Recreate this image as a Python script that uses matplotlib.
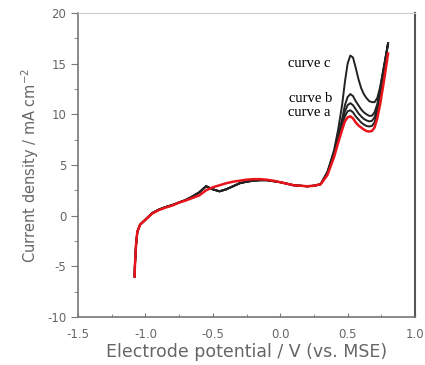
import numpy as np
import matplotlib.pyplot as plt
from matplotlib.ticker import MultipleLocator

# Common low-potential branch (x in V vs MSE)
x_base = [-1.08, -1.078, -1.07, -1.06, -1.04, -1.0, -0.95, -0.9, -0.85, -0.8, -0.75, -0.7,
          -0.65, -0.6, -0.55, -0.5, -0.45, -0.4, -0.35, -0.3, -0.25, -0.2, -0.15, -0.1,
          -0.05, 0.0, 0.05, 0.1, 0.15, 0.2, 0.25, 0.3]
y_base_red = [-6.0, -5.0, -3.0, -1.6, -0.9, -0.4, 0.2, 0.55, 0.8, 1.0, 1.3, 1.5,
              1.75, 2.0, 2.5, 2.8, 3.0, 3.2, 3.35, 3.45, 3.55, 3.6, 3.6, 3.55,
              3.45, 3.3, 3.15, 3.0, 2.95, 2.9, 2.95, 3.1]
y_base_black = [-6.0, -5.0, -3.0, -1.6, -0.9, -0.4, 0.25, 0.6, 0.85, 1.05, 1.3, 1.55,
                1.9, 2.3, 2.9, 2.6, 2.4, 2.6, 2.9, 3.2, 3.35, 3.45, 3.5, 3.5,
                3.4, 3.3, 3.15, 3.0, 2.95, 2.9, 2.95, 3.1]

# Oxidation peak region
x_peak = [0.35, 0.4, 0.43, 0.46, 0.48, 0.5, 0.52, 0.54, 0.56, 0.58, 0.6, 0.62,
          0.64, 0.66, 0.68, 0.70, 0.72, 0.74, 0.76, 0.78, 0.8]
y_red = [4.0, 5.8, 7.2, 8.5, 9.3, 9.7, 9.8, 9.6, 9.2, 8.9, 8.7, 8.5,
         8.35, 8.3, 8.35, 8.7, 9.6, 10.9, 12.5, 14.2, 16.0]
y_a = [4.2, 6.0, 7.5, 8.9, 9.8, 10.3, 10.4, 10.2, 9.8, 9.5, 9.2, 9.0,
       8.85, 8.8, 8.85, 9.2, 10.2, 11.8, 13.6, 15.3, 17.0]
y_ab = [4.2, 6.1, 7.7, 9.2, 10.3, 10.9, 11.1, 10.9, 10.5, 10.1, 9.8, 9.55,
        9.4, 9.3, 9.35, 9.7, 10.6, 12.1, 13.8, 15.4, 17.0]
y_b = [4.3, 6.2, 7.9, 9.6, 10.9, 11.7, 12.0, 11.8, 11.3, 10.9, 10.5, 10.2,
       10.0, 9.85, 9.85, 10.2, 11.0, 12.4, 14.0, 15.5, 17.0]
y_c = [4.3, 6.5, 8.5, 11.0, 13.2, 15.0, 15.8, 15.6, 14.6, 13.5, 12.6, 12.0,
       11.6, 11.3, 11.2, 11.2, 11.6, 12.6, 14.0, 15.5, 17.0]

labels = ["curve c", "curve b", "curve a"]
label_x = [0.06, 0.065, 0.06]
label_y = [15.0, 11.6, 10.2]

fig = plt.figure(figsize=(4.25, 3.65), dpi=100)
ax = fig.add_axes([0.1835, 0.1315, 0.793, 0.833])

for yp in [y_c, y_b, y_ab, y_a]:
    ax.plot(x_base + x_peak, y_base_black + yp, color="#222222", lw=1.4)
ax.plot(x_base + x_peak, y_base_red + y_red, color="#e8141c", lw=1.8)

for t, tx, ty in zip(labels, label_x, label_y):
    ax.text(tx, ty, t, family="Liberation Serif", fontsize=10.5, color="black",
            va="center", ha="left")

ax.set_xlim(-1.5, 1.0)
ax.set_ylim(-10, 20)
ax.xaxis.set_minor_locator(MultipleLocator(0.25))
ax.yaxis.set_minor_locator(MultipleLocator(2.5))
ax.set_xticks([-1.5, -1.0, -0.5, 0.0, 0.5, 1.0])
ax.set_xticklabels(["-1.5", "-1.0", "-0.5", "0.0", "0.5", "1.0"])
ax.set_yticks([-10, -5, 0, 5, 10, 15, 20])
ax.set_yticklabels(["-10", "-5", "0", "5", "10", "15", "20"])

ax.tick_params(which="both", colors="#777777", labelcolor="#666666", labelsize=8.5)
ax.tick_params(axis="y", which="major", direction="out", length=5)
ax.tick_params(axis="y", which="minor", direction="out", length=3)
ax.tick_params(axis="x", which="major", direction="in", length=3, pad=8)
ax.tick_params(axis="x", which="minor", direction="in", length=2)

for s in ["left", "bottom"]:
    ax.spines[s].set_color("#777777")
    ax.spines[s].set_linewidth(1.2)
ax.spines["top"].set_color("#cccccc")
ax.spines["right"].set_color("#555555")
ax.spines["right"].set_linewidth(1.5)

ax.set_xlabel("Electrode potential / V (vs. MSE)", color="#666666", fontsize=12.5,
              labelpad=1)
ax.set_ylabel("Current density / mA cm$^{-2}$", color="#666666", fontsize=10.5,
              labelpad=4)

fig.savefig("out.png", dpi=100)
